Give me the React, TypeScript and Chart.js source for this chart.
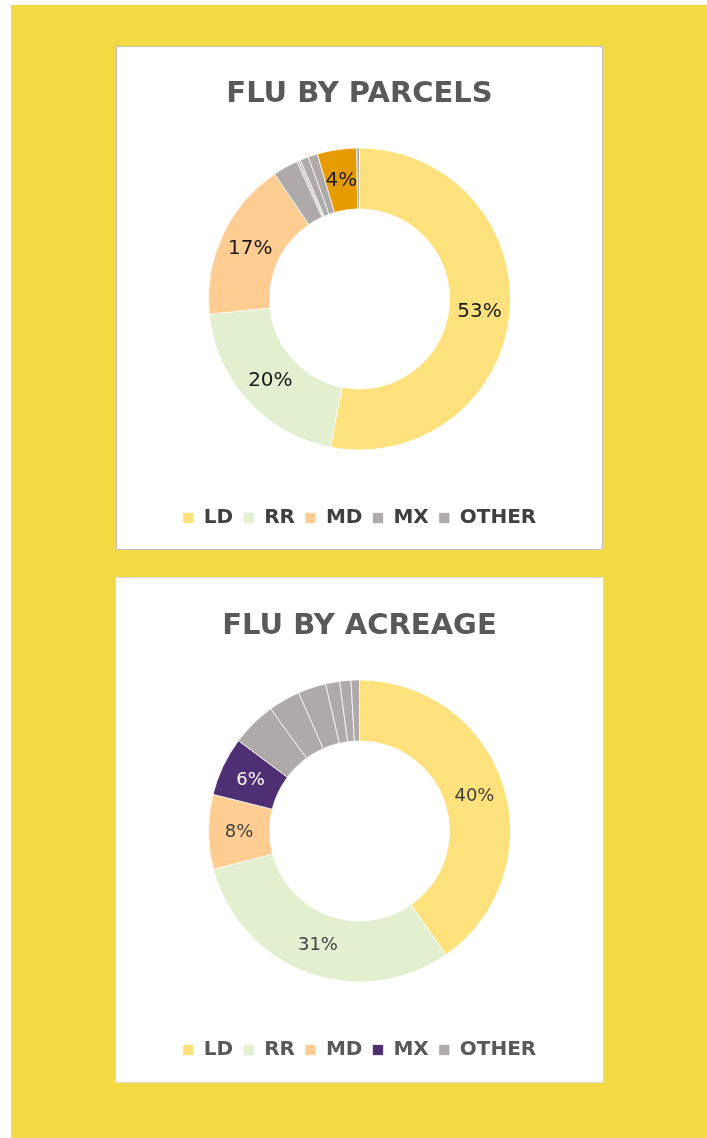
import React, { useEffect, useRef } from 'react';
import { Chart, registerables } from 'chart.js';

Chart.register(...registerables);

// ---------- data ----------
const parcelCategories = ['LD', 'RR', 'MD', 'MX', 'OTHER', 'COM', 'PUB', 'IND', 'HD', 'CON'];
const parcelShares = [53.1, 20.3, 17.1, 2.7, 0.2, 0.2, 0.9, 1.0, 4.2, 0.3];
const parcelColors = ['#FCE17C', '#E2F0D0', '#FFCC91', '#AEAAAA', '#AEAAAA', '#AEAAAA', '#AEAAAA', '#AEAAAA', '#E69C00', '#AEAAAA'];
const parcelLabeled = ['LD', 'RR', 'MD', 'HD'];
const parcelLabelColors = ['#1A1A1A', '#1A1A1A', '#1A1A1A', '#1A1A1A', '#1A1A1A', '#1A1A1A', '#1A1A1A', '#1A1A1A', '#1A1A1A', '#1A1A1A'];

const acreageCategories = ['LD', 'RR', 'MD', 'MX', 'OTHER', 'COM', 'PUB', 'IND', 'CON', 'HD'];
const acreageShares = [40.3, 30.6, 8.0, 6.3, 4.8, 3.4, 3.0, 1.5, 1.2, 0.9];
const acreageColors = ['#FCE17C', '#E2F0D0', '#FFCC91', '#4F2F74', '#AEAAAA', '#AEAAAA', '#AEAAAA', '#AEAAAA', '#AEAAAA', '#AEAAAA'];
const acreageLabeled = ['LD', 'RR', 'MD', 'MX'];
const acreageLabelColors = ['#404040', '#404040', '#404040', '#FFFFFF', '#404040', '#404040', '#404040', '#404040', '#404040', '#404040'];

const LEGEND_COUNT = 5;

// ---------- plugin: percentage labels ----------
const sliceLabels = {
  id: 'sliceLabels',
  afterDatasetsDraw(chart: any, _args: any, opts: any) {
    const { ctx } = chart;
    const meta = chart.getDatasetMeta(0);
    const data = chart.data.datasets[0].data as number[];
    const labels = chart.data.labels as string[];
    ctx.save();
    ctx.font = opts.font;
    ctx.textAlign = 'center';
    ctx.textBaseline = 'middle';
    meta.data.forEach((arc: any, i: number) => {
      if (!opts.shown.includes(labels[i])) return;
      const p = arc.tooltipPosition();
      ctx.fillStyle = opts.colors[i];
      ctx.fillText(Math.round(data[i]) + '%', p.x, p.y + 1);
    });
    ctx.restore();
  },
};

interface PanelProps {
  left: number;
  top: number;
  width: number;
  height: number;
  border: string;
  title: string;
  categories: string[];
  values: number[];
  colors: string[];
  shown: string[];
  labelColors: string[];
  labelFont: string;
  legendColor: string;
  titleTop: number;
  padBottom: number;
}

function DonutPanel(p: PanelProps) {
  const ref = useRef<HTMLCanvasElement | null>(null);
  useEffect(() => {
    if (!ref.current) return;
    const chart = new Chart(ref.current, {
      type: 'doughnut',
      data: {
        labels: p.categories,
        datasets: [
          {
            data: p.values,
            backgroundColor: p.colors,
            borderColor: '#FFFFFF',
            borderWidth: 0.75,
            radius: 151,
            cutout: '59.6%',
          } as any,
        ],
      },
      options: {
        responsive: false,
        animation: false,
        layout: { padding: { top: 0, left: 0, right: 0, bottom: p.padBottom } },
        plugins: {
          title: {
            display: true,
            text: p.title,
            color: '#595959',
            font: { family: 'DejaVu Sans', size: 29, weight: 'bold', lineHeight: 0.4 },
            padding: { top: p.titleTop, bottom: 0.2 },
          },
          legend: {
            position: 'bottom',
            labels: {
              boxWidth: 11,
              boxHeight: 11,
              padding: 10,
              color: p.legendColor,
              font: { family: 'DejaVu Sans', size: 20, weight: 'bold' },
              filter: (item: any) => item.index < LEGEND_COUNT,
            },
          },
          tooltip: { enabled: false },
          sliceLabels: { font: p.labelFont, shown: p.shown, colors: p.labelColors },
        } as any,
      },
      plugins: [sliceLabels as any],
    });
    return () => chart.destroy();
  }, []);

  return (
    <div
      style={{
        position: 'absolute',
        left: p.left,
        top: p.top,
        width: p.width,
        height: p.height,
        boxSizing: 'border-box',
        border: `1px solid ${p.border}`,
        background: '#FFFFFF',
      }}
    >
      <canvas
        ref={ref}
        width={p.width - 2}
        height={p.height - 2}
        style={{ display: 'block', width: p.width - 2, height: p.height - 2 }}
      />
    </div>
  );
}

export default function App() {
  return (
    <div
      style={{
        position: 'absolute',
        left: 11,
        top: 5,
        width: 696,
        height: 1133,
        background: '#F3D944',
      }}
    >
      <DonutPanel
        left={105}
        top={41}
        width={487}
        height={504}
        border="#BFBFBF"
        title="FLU BY PARCELS"
        categories={parcelCategories}
        values={parcelShares}
        colors={parcelColors}
        shown={parcelLabeled}
        labelColors={parcelLabelColors}
        labelFont="20px 'DejaVu Sans'"
        legendColor="#404040"
        titleTop={41.2}
        padBottom={11}
      />
      <DonutPanel
        left={104}
        top={572}
        width={489}
        height={506}
        border="#D9D9D9"
        title="FLU BY ACREAGE"
        categories={acreageCategories}
        values={acreageShares}
        colors={acreageColors}
        shown={acreageLabeled}
        labelColors={acreageLabelColors}
        labelFont="18px 'DejaVu Sans'"
        legendColor="#595959"
        titleTop={42.2}
        padBottom={12}
      />
    </div>
  );
}
